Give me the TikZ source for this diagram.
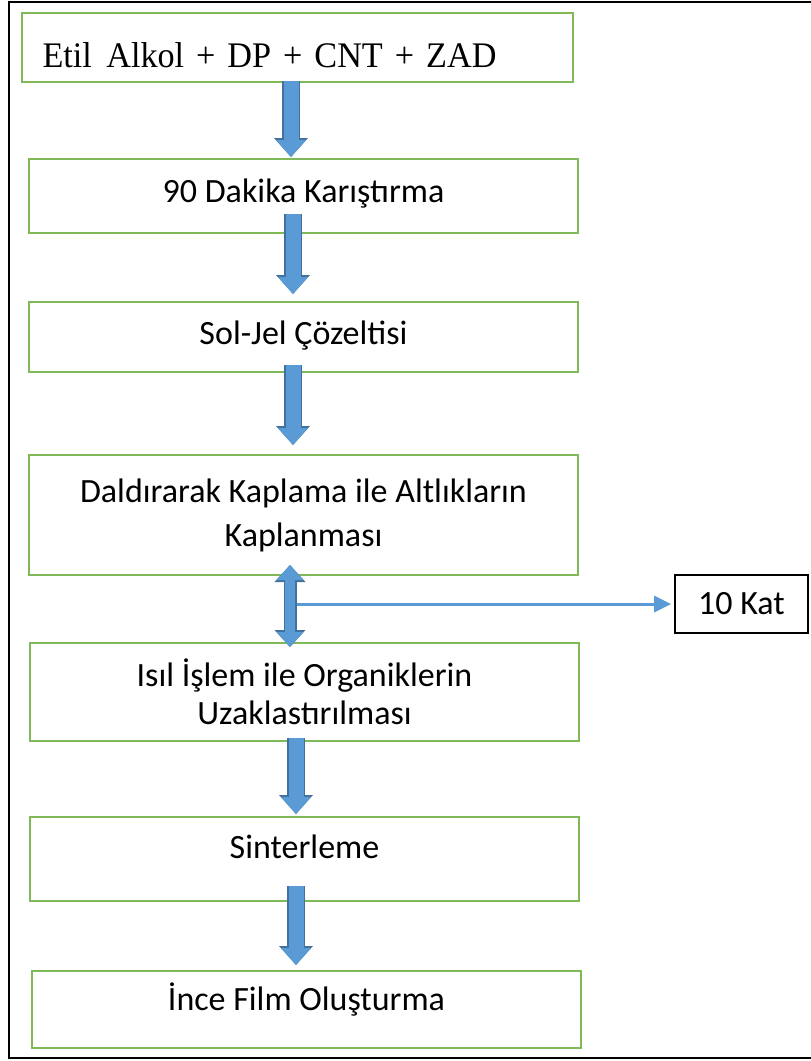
\documentclass[tikz,border=0pt]{standalone}
\usepackage{fontspec}
\setmainfont{Carlito}
\newfontfamily\timesfont[FakeStretch=0.95,WordSpace=0.7]{Liberation Serif}
\usetikzlibrary{arrows.meta}
\definecolor{boxgreen}{RGB}{128,186,88}
\definecolor{arrowfill}{RGB}{91,155,213}
\definecolor{arrowedge}{RGB}{65,113,156}

\begin{document}
\begin{tikzpicture}[x=1pt,y=-1pt,
  stepbox/.style={draw=boxgreen,line width=2pt,minimum width=549pt,inner sep=0pt,
    font=\fontsize{34}{44}\selectfont,align=center,minimum height=#1},
  oneline/.style={text height=22pt,text depth=#1},
  katbox/.style={draw=black,line width=2pt,minimum width=133pt,minimum height=58pt,
    font=\fontsize{34}{40}\selectfont},
  flowarrow/.style={draw=arrowfill,line width=15pt,
    -{Triangle[length=17pt,width=30pt,line width=0pt 0 0]},
    preaction={draw=arrowedge,line width=18pt,
      -{Triangle[length=19pt,width=34pt,line width=0pt 0 0]}}},
  botharrow/.style={draw=arrowfill,line width=10pt,
    {Triangle[length=15pt,width=27pt,line width=0pt 0 0]}-{Triangle[length=15pt,width=27pt,line width=0pt 0 0]},
    preaction={draw=arrowedge,line width=13pt,
      {Triangle[length=17pt,width=31pt,line width=0pt 0 0]}-{Triangle[length=17pt,width=31pt,line width=0pt 0 0]}}},
  thinarrow/.style={draw=arrowfill,line width=3pt,
    -{Triangle[length=17pt,width=17pt,line width=0pt 0 0]}}]
\useasboundingbox (0,0) rectangle (811,1061);
% outer frame, open on the right
\draw[line width=2.5pt] (811,2) -- (9,2) -- (9,1058) -- (811,1058);

% steps
\node[stepbox=69pt,minimum width=551pt,text width=510pt,align=left,
  font=\timesfont\fontsize{36}{40}\selectfont,text height=39pt,text depth=0pt]
  (mix) at (297.5,47.5) {Etil\hspace{0.4em}Alkol + DP + CNT + ZAD};
\node[stepbox=74pt,oneline=10pt] (stir) at (303.5,196) {90 Dakika Karıştırma};
\node[stepbox=70pt,oneline=8pt] (sol) at (303.5,337) {Sol-Jel Çözeltisi};
\node[stepbox=120pt] (dip) at (303.5,515) {Daldırarak Kaplama ile Altlıkların\\Kaplanması};
\node[stepbox=98pt,font=\fontsize{34}{38}\selectfont] (heat) at (304.5,692)
  {Isıl İşlem ile Organiklerin\\Uzaklastırılması};
\node[stepbox=84pt,oneline=24pt] (sinter) at (304.5,859) {Sinterleme};
\node[stepbox=77pt,oneline=20pt] (film) at (306.5,1009.5) {İnce Film Oluşturma};
\node[katbox] (kat) at (741.5,604) {10 Kat};

% arrows
\draw[flowarrow,shorten <=-2pt,shorten >=1pt]
  ([xshift=-6.5pt]mix.south) -- ([xshift=-6.5pt]mix.south |- stir.north);
\draw[flowarrow,shorten <=-20pt,shorten >=7pt]
  ([xshift=-10.5pt]stir.south) -- ([xshift=-10.5pt]stir.south |- sol.north);
\draw[flowarrow,shorten <=-8pt,shorten >=9pt]
  ([xshift=-10.5pt]sol.south) -- ([xshift=-10.5pt]sol.south |- dip.north);
\coordinate (split) at (290,604);
\draw[thinarrow,shorten >=3pt] (split) -- (kat.west);
\draw[botharrow,shorten <=-11pt,shorten >=-5pt]
  ([xshift=-13.5pt]dip.south) -- ([xshift=-13.5pt]dip.south |- heat.north);
\draw[flowarrow,shorten <=-4pt,shorten >=2pt]
  ([xshift=-8.5pt]heat.south) -- ([xshift=-8.5pt]heat.south |- sinter.north);
\draw[flowarrow,shorten <=-16pt,shorten >=5pt]
  ([xshift=-8.5pt]sinter.south) -- ([xshift=-8.5pt]sinter.south |- film.north);
\end{tikzpicture}
\end{document}
